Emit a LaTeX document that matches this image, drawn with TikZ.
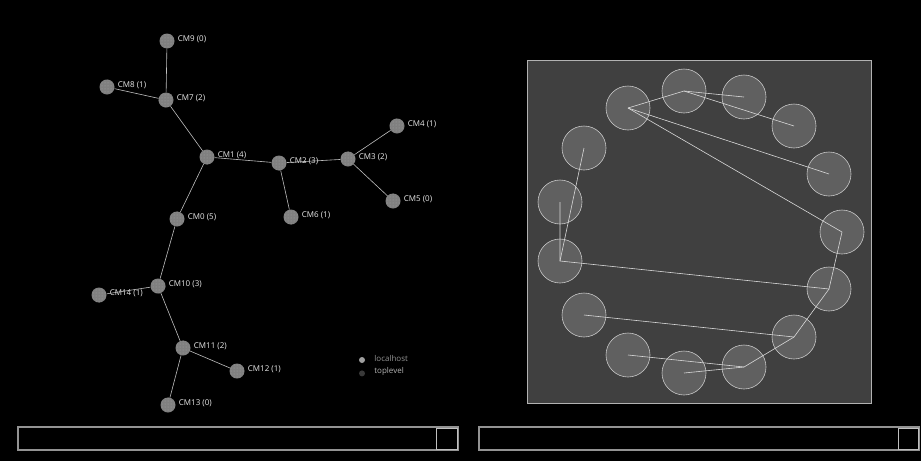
\documentclass[tikz,border=0pt]{standalone}
\usepackage{fontspec}
\setsansfont{Open Sans}
\usepackage{tikz}
\usetikzlibrary{positioning,patterns}

\definecolor{panelbg}{HTML}{404040}
\definecolor{ringfill}{HTML}{606060}
\definecolor{hostgray}{HTML}{808080}

\begin{document}
\begin{tikzpicture}[x=1pt,y=-1pt,
    host/.style={circle,fill=hostgray,inner sep=0pt,minimum size=15pt,
        postaction={pattern=dots,pattern color=gray!70}},
    lab/.style={text=white!92!black,font=\sffamily\fontsize{8}{9}\selectfont,
        inner sep=0pt,yshift=2pt},
    link/.style={draw=white!75!black,line width=0.6pt},
    ring/.style={circle,fill=ringfill,draw=white!78!black,line width=0.6pt,
        inner sep=0pt,minimum size=44pt},
    chord/.style={draw=white!85!black,line width=0.6pt},
    bar/.style={draw=gray!85,line width=1.2pt},
    knob/.style={draw=white!75!black,line width=1pt}]
   \fill[black] (0,0) rectangle (921,461);
   \useasboundingbox (0,0) rectangle (921,461);

   % left: the tree of hosts
   \node[host,label={[lab,label distance=3pt]right:CM9 (0)}] (cm9) at (167,41) {};
   \node[host,label={[lab,label distance=3pt]right:CM8 (1)}] (cm8) at (107,87) {};
   \node[host,label={[lab,label distance=3pt]right:CM7 (2)}] (cm7) at (166,100) {};
   \node[host,label={[lab,label distance=3pt]right:CM1 (4)}] (cm1) at (207,157) {};
   \node[host,label={[lab,label distance=3pt]right:CM2 (3)}] (cm2) at (279,163) {};
   \node[host,label={[lab,label distance=3pt]right:CM3 (2)}] (cm3) at (348,159) {};
   \node[host,label={[lab,label distance=3pt]right:CM4 (1)}] (cm4) at (397,126) {};
   \node[host,label={[lab,label distance=3pt]right:CM5 (0)}] (cm5) at (393,201) {};
   \node[host,label={[lab,label distance=3pt]right:CM6 (1)}] (cm6) at (291,217) {};
   \node[host,label={[lab,label distance=3pt]right:CM0 (5)}] (cm0) at (177,219) {};
   \node[host,label={[lab,label distance=3pt]right:CM10 (3)}] (cm10) at (158,286) {};
   \node[host,label={[lab,label distance=3pt]right:CM14 (1)}] (cm14) at (99,295) {};
   \node[host,label={[lab,label distance=3pt]right:CM11 (2)}] (cm11) at (183,348) {};
   \node[host,label={[lab,label distance=3pt]right:CM12 (1)}] (cm12) at (237,371) {};
   \node[host,label={[lab,label distance=3pt]right:CM13 (0)}] (cm13) at (168,405) {};

   \path[link]
    (cm9) edge (cm7)
    (cm8) edge (cm7)
    (cm7) edge (cm1)
    (cm1) edge (cm2)
          edge (cm0)
    (cm2) edge (cm3)
          edge (cm6)
    (cm3) edge (cm4)
          edge (cm5)
    (cm0) edge (cm10)
    (cm10) edge (cm14)
           edge (cm11)
    (cm11) edge (cm12)
           edge (cm13);

   % legend
   \node[circle,fill=gray!75,inner sep=0pt,minimum size=6pt] (localhost) at (362,360) {};
   \node[circle,fill=gray!45!black,inner sep=0pt,minimum size=6pt,below=7pt of localhost] (toplevel) {};
   \node[lab,text=gray!85,anchor=west,right=9pt of localhost,yshift=0pt] (localtxt) {localhost};
   \node[lab,text=gray!60,anchor=west,right=9pt of toplevel,yshift=0pt] (toptxt) {toplevel};

   % right: ring view
   \draw[fill=panelbg,draw=white!70!black,line width=0.8pt] (527,60) rectangle (871,403);
   \foreach \name/\px/\py in {r1/628/108, r2/684/91, r3/744/97, r4/794/126,
        r5/829/174, r6/842/232, r7/829/289, r8/794/337, r9/744/367,
        r10/684/373, r11/628/355, r12/584/315, r13/560/261, r14/560/202,
        r15/584/148}
     \node[ring] (\name) at (\px,\py) {};

   \draw[chord] (r1.center) -- (r2.center) -- (r3.center);
   \draw[chord] (r2.center) -- (r4.center);
   \draw[chord] (r1.center) -- (r5.center);
   \draw[chord] (r1.center) -- (r6.center) -- (r7.center) -- (r13.center) -- (r14.center);
   \draw[chord] (r13.center) -- (r15.center);
   \draw[chord] (r7.center) -- (r8.center) -- (r12.center);
   \draw[chord] (r8.center) -- (r9.center) -- (r11.center);
   \draw[chord] (r9.center) -- (r10.center);

   % bottom bars
   \draw[bar] (18,427) rectangle (458,450);
   \draw[knob] (436,428) rectangle (457,449);
   \draw[bar] (479,427) rectangle (919,450);
   \draw[knob] (898,428) rectangle (918,449);
\end{tikzpicture}
\end{document}
